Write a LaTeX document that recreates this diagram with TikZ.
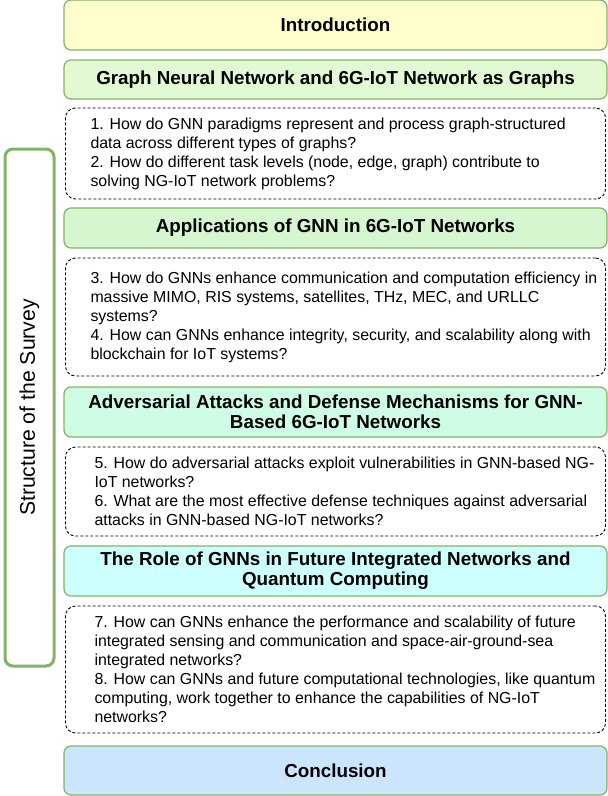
\documentclass[tikz,border=0pt]{standalone}
\usepackage{fontspec}
\setmainfont{Liberation Sans}
\definecolor{bordergreen}{RGB}{130,179,102}
\definecolor{introyellow}{RGB}{255,255,206}
\definecolor{gnngreen}{RGB}{225,250,212}
\definecolor{appgreen}{RGB}{213,246,207}
\definecolor{advmint}{RGB}{207,252,228}
\definecolor{rolecyan}{RGB}{206,255,255}
\definecolor{concblue}{RGB}{204,229,255}
\usetikzlibrary{positioning}

\begin{document}
\begin{tikzpicture}[x=1pt, y=1pt, node distance=10pt,
  every node/.style={outer sep=0pt},
  head/.style={draw=bordergreen, line width=1.2pt, rounded corners=7pt, align=center, minimum width=543pt, inner sep=0pt, font=\fontsize{18.8}{20}\selectfont\bfseries},
  qframe/.style={draw, dash pattern=on 3pt off 2pt, line width=0.9pt, rounded corners=10pt, minimum width=540pt},
  qtext/.style={align=left, inner sep=0pt, font=\fontsize{15.9}{19}\selectfont},
  sidebox/.style={draw=bordergreen, line width=3pt, rounded corners=8pt, minimum width=517pt, minimum height=49pt, fill=white, font=\fontsize{21.2}{24}\selectfont}]

\useasboundingbox (0,0) rectangle (608,-796);

\node[head, fill=introyellow, minimum height=50pt, anchor=north west] (intro) at (64,0) {Introduction};
\node[head, fill=gnngreen, minimum height=39pt, below=of intro] (gnn) {Graph Neural Network and 6G-IoT Network as Graphs};
\node[qframe, minimum height=91pt, below=9pt of gnn] (qa) {};
\node[qtext, right=25pt of qa.west] (qatext) {1. How do GNN paradigms represent and process graph-structured\\
data across different types of graphs?\\
2. How do different task levels (node, edge, graph) contribute to\\
solving NG-IoT network problems?};

\node[head, fill=appgreen, minimum height=40pt, below=9pt of qa] (apps) {Applications of GNN in 6G-IoT Networks};
\node[qframe, minimum height=118pt, below=of apps] (qb) {};
\node[qtext, right=25pt of qb.west] (qbtext) {3. How do GNNs enhance communication and computation efficiency in\\
massive MIMO, RIS systems, satellites, THz, MEC, and URLLC\\
systems?\\
4. How can GNNs enhance integrity, security, and scalability along with\\
blockchain for IoT systems?};

\node[head, fill=advmint, minimum height=50pt, below=11pt of qb] (adv) {Adversarial Attacks and Defense Mechanisms for GNN-\\Based 6G-IoT Networks};
\node[qframe, minimum height=89pt, below=of adv] (qc) {};
\node[qtext, right=29pt of qc.west] (qctext) {5. How do adversarial attacks exploit vulnerabilities in GNN-based NG-\\
IoT networks?\\
6. What are the most effective defense techniques against adversarial\\
attacks in GNN-based NG-IoT networks?};

\node[head, fill=rolecyan, minimum height=50pt, below=of qc] (role) {The Role of GNNs in Future Integrated Networks and\\Quantum Computing};
\node[qframe, minimum height=127pt, below=of role] (qd) {};
\node[qtext, right=29pt of qd.west] (qdtext) {7. How can GNNs enhance the performance and scalability of future\\
integrated sensing and communication and space-air-ground-sea\\
integrated networks?\\
8. How can GNNs and future computational technologies, like quantum\\
computing, work together to enhance the capabilities of NG-IoT\\
networks?};

\node[head, fill=concblue, minimum height=49pt, below=13pt of qd] (conc) {Conclusion};

% left side label
\node[sidebox, rotate=90] (side) at (29.5,-407.5) {Structure of the Survey};

\end{tikzpicture}
\end{document}
